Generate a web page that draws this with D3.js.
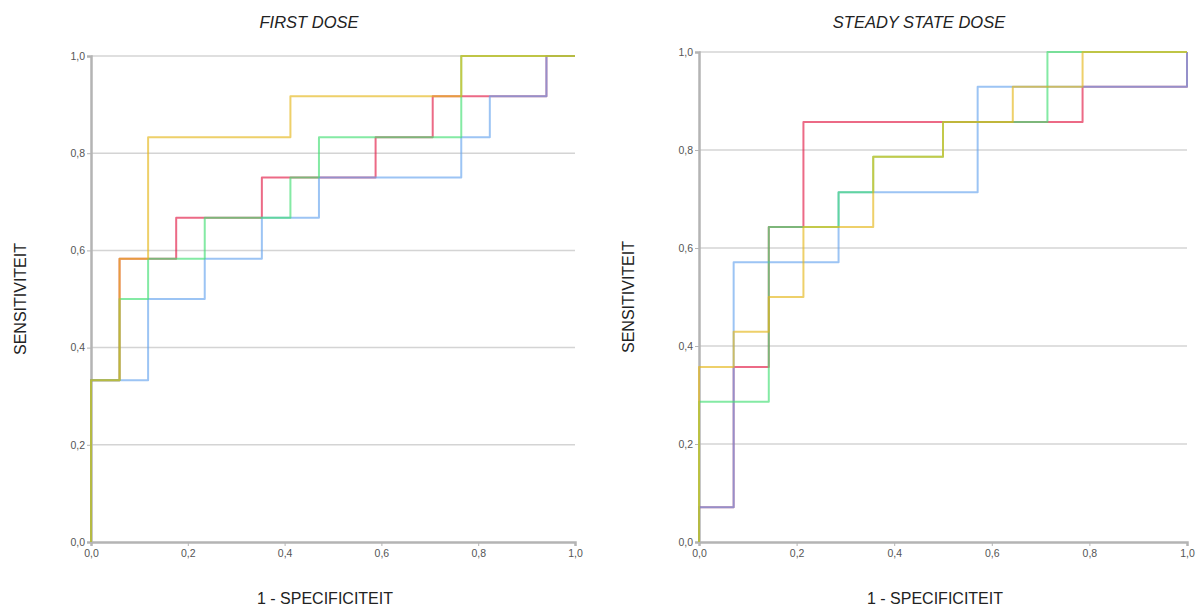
<!DOCTYPE html>
<html>
<head>
<meta charset="utf-8">
<script src="https://cdn.jsdelivr.net/npm/d3@7"></script>
<style>
  body { margin: 0; background: #fff; }
  svg { display: block; font-family: Arial, "Liberation Sans", sans-serif; background: #fff; }
</style>
</head>
<body>
<div id="chart"></div>
<script>
// axis ticks (both panels share them)
const ticks = [0, 0.2, 0.4, 0.6, 0.8, 1.0];

// FIRST DOSE: ROC step corners [1 - specificity, sensitivity]
const firstYellow = [[0,0],[0,0.333],[0.059,0.333],[0.059,0.583],[0.118,0.583],[0.118,0.833],[0.412,0.833],[0.412,0.917],[0.765,0.917],[0.765,1],[1,1]];
const firstRed = [[0,0],[0,0.333],[0.059,0.333],[0.059,0.583],[0.176,0.583],[0.176,0.667],[0.353,0.667],[0.353,0.75],[0.588,0.75],[0.588,0.833],[0.706,0.833],[0.706,0.917],[0.941,0.917],[0.941,1],[1,1]];
const firstGreen = [[0,0],[0,0.333],[0.059,0.333],[0.059,0.5],[0.118,0.5],[0.118,0.583],[0.235,0.583],[0.235,0.667],[0.412,0.667],[0.412,0.75],[0.471,0.75],[0.471,0.833],[0.765,0.833],[0.765,1],[1,1]];
const firstBlue = [[0,0],[0,0.333],[0.118,0.333],[0.118,0.5],[0.235,0.5],[0.235,0.583],[0.353,0.583],[0.353,0.667],[0.471,0.667],[0.471,0.75],[0.765,0.75],[0.765,0.833],[0.824,0.833],[0.824,0.917],[0.941,0.917],[0.941,1],[1,1]];

// STEADY STATE DOSE
const steadyYellow = [[0,0],[0,0.357],[0.071,0.357],[0.071,0.429],[0.143,0.429],[0.143,0.5],[0.214,0.5],[0.214,0.643],[0.357,0.643],[0.357,0.786],[0.5,0.786],[0.5,0.857],[0.643,0.857],[0.643,0.929],[0.786,0.929],[0.786,1],[1,1]];
const steadyRed = [[0,0],[0,0.071],[0.071,0.071],[0.071,0.357],[0.143,0.357],[0.143,0.643],[0.214,0.643],[0.214,0.857],[0.786,0.857],[0.786,0.929],[1,0.929],[1,1]];
const steadyGreen = [[0,0],[0,0.286],[0.143,0.286],[0.143,0.643],[0.286,0.643],[0.286,0.714],[0.357,0.714],[0.357,0.786],[0.5,0.786],[0.5,0.857],[0.714,0.857],[0.714,1],[1,1]];
const steadyBlue = [[0,0],[0,0.071],[0.071,0.071],[0.071,0.571],[0.286,0.571],[0.286,0.714],[0.571,0.714],[0.571,0.929],[1,0.929],[1,1]];

// semi-transparent strokes so overlaps mix (blue over red -> purple etc.)
const colors = { red: "#e21a45", blue: "#67a5ee", green: "#42df73", yellow: "#e5b71a" };

const panels = [
  { title: "FIRST DOSE", left: 91, right: 575, top: 56, bottom: 542,
    series: [["red", firstRed], ["blue", firstBlue], ["green", firstGreen], ["yellow", firstYellow]] },
  { title: "STEADY STATE DOSE", left: 699, right: 1187, top: 52, bottom: 542,
    series: [["red", steadyRed], ["blue", steadyBlue], ["green", steadyGreen], ["yellow", steadyYellow]] }
];

const svg = d3.select("#chart").append("svg")
  .attr("width", 1202)
  .attr("height", 608);

const fmt = d => d3.format(".1f")(d).replace(".", ",");

panels.forEach(p => {
  const x = d3.scaleLinear().domain([0, 1]).range([p.left, p.right]);
  const y = d3.scaleLinear().domain([0, 1]).range([p.bottom, p.top]);
  const g = svg.append("g");

  // gridlines
  g.append("g").selectAll("line")
    .data(ticks.slice(1))
    .join("line")
      .attr("x1", p.left).attr("x2", p.right)
      .attr("y1", d => y(d)).attr("y2", d => y(d))
      .attr("stroke", "#d4d4d4")
      .attr("stroke-width", 1.5);

  // axes
  const yAxis = g.append("g")
    .attr("transform", `translate(${p.left},0)`)
    .call(d3.axisLeft(y).tickValues(ticks).tickFormat(fmt).tickSize(4));
  const xAxis = g.append("g")
    .attr("transform", `translate(0,${p.bottom})`)
    .call(d3.axisBottom(x).tickValues(ticks).tickFormat(fmt).tickSize(4));

  [yAxis, xAxis].forEach(a => {
    a.select(".domain").attr("stroke", "#b4b4b4").attr("stroke-width", 2.5);
    a.selectAll(".tick line").attr("stroke", "#b4b4b4");
    a.selectAll(".tick text").attr("fill", "#555").attr("font-size", 10.5)
      .attr("font-family", "Arial, 'Liberation Sans', sans-serif");
  });
  yAxis.selectAll(".tick text").attr("x", -6);
  xAxis.selectAll(".tick text").attr("y", 8);

  // ROC curves
  const line = d3.line().x(d => x(d[0])).y(d => y(d[1]));
  g.append("g").selectAll("path")
    .data(p.series)
    .join("path")
      .attr("d", d => line(d[1]))
      .attr("fill", "none")
      .attr("stroke", d => colors[d[0]])
      .attr("stroke-width", 2)
      .attr("stroke-opacity", 0.65)
      .attr("stroke-linejoin", "round");

  // titles and axis labels
  const cx = (p.left + p.right) / 2;
  g.append("text")
    .attr("x", cx - 24).attr("y", 28)
    .attr("text-anchor", "middle")
    .attr("font-size", 16.5).attr("font-style", "italic")
    .attr("fill", "#222")
    .text(p.title);

  g.append("text")
    .attr("x", cx - 8).attr("y", 604)
    .attr("text-anchor", "middle")
    .attr("font-size", 16)
    .attr("fill", "#222")
    .text("1 - SPECIFICITEIT");

  g.append("text")
    .attr("transform", `translate(${p.left - 65},${(p.top + p.bottom) / 2}) rotate(-90)`)
    .attr("text-anchor", "middle")
    .attr("font-size", 16)
    .attr("fill", "#222")
    .text("SENSITIVITEIT");
});
</script>
</body>
</html>
